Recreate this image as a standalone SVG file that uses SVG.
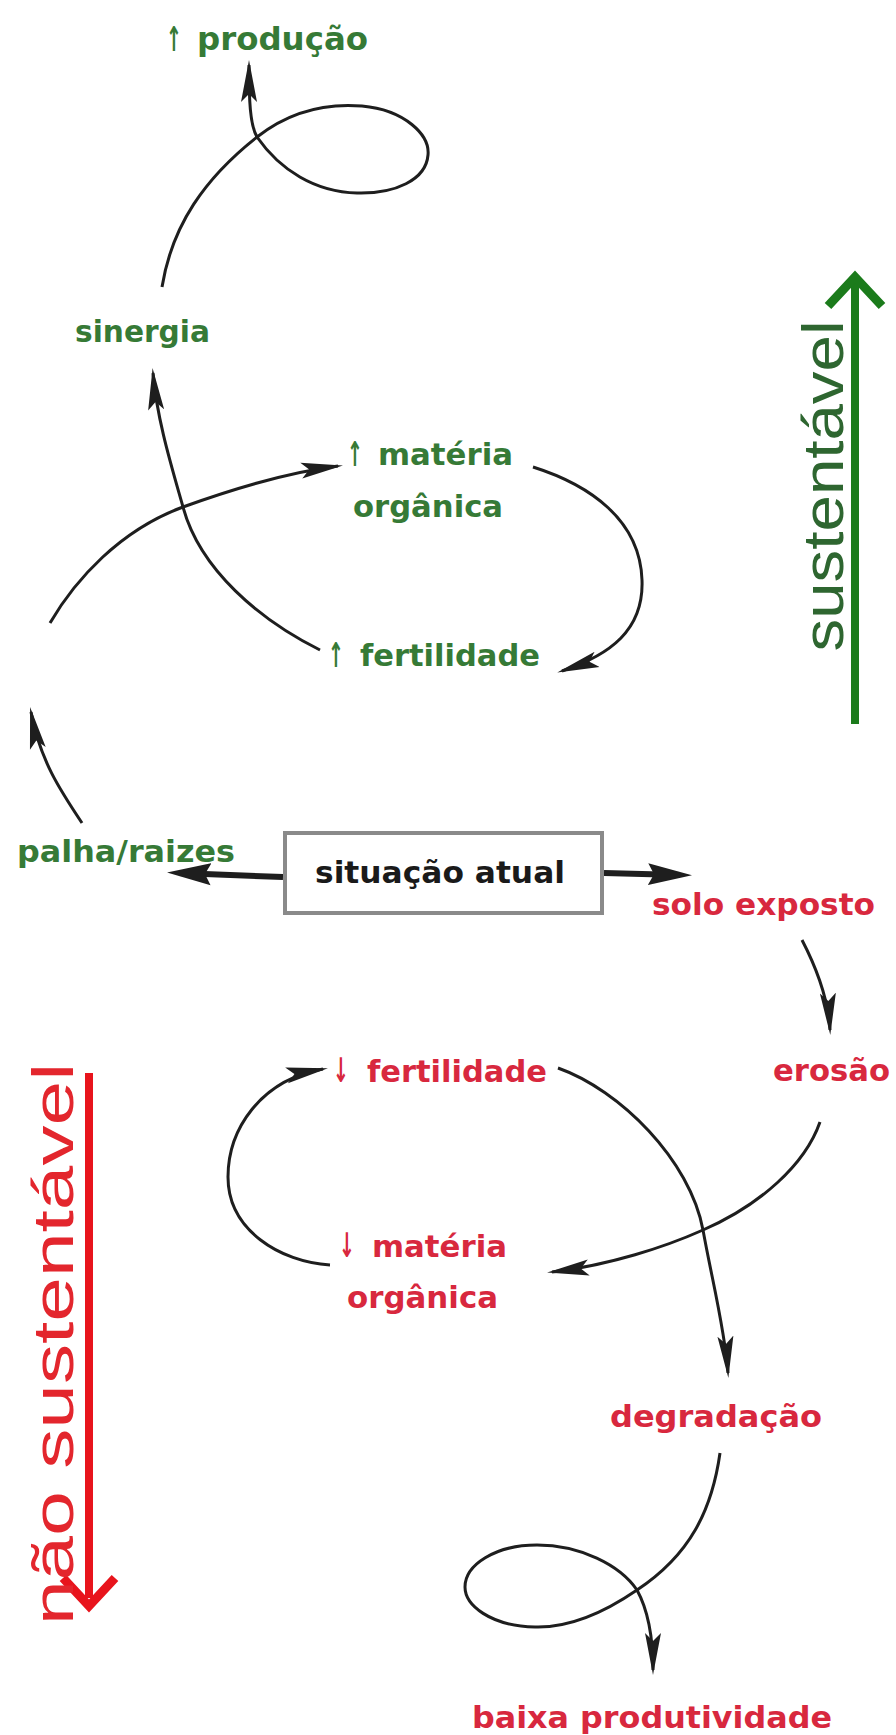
<svg xmlns="http://www.w3.org/2000/svg" width="896" height="1735" viewBox="0 0 896 1735">
<style>
.lbl{font-family:"DejaVu Sans",sans-serif;font-weight:bold;font-size:30px}
.g{fill:#367a36}
.r{fill:#d8283e}
.k{fill:#1a1a1a}
.arw{font-size:34px}
.con{fill:none;stroke:#1e1e1e;stroke-width:3;stroke-linecap:butt}
.conb{fill:none;stroke:#1e1e1e;stroke-width:6}
.side{font-family:"Liberation Sans",Arial,sans-serif;font-size:58px}
</style>
<defs>
<marker id="ah" markerUnits="userSpaceOnUse" viewBox="0 -10 44 20" markerWidth="44" markerHeight="20" refX="37" refY="0" orient="auto">
<path d="M0,-8 L42,0 L0,8 L8,0 Z" fill="#1e1e1e"/>
</marker>
<marker id="ahb" markerUnits="userSpaceOnUse" viewBox="0 -12 46 24" markerWidth="46" markerHeight="24" refX="32" refY="0" orient="auto">
<path d="M0,-11 L44,0 L0,11 L6,0 Z" fill="#1e1e1e"/>
</marker>
</defs>
<rect width="896" height="1735" fill="#ffffff"/>

<g id="connectors">
<path class="con" marker-end="url(#ah)" d="M162,287 C172,225 205,178 257,137 C290,111 325,103 362,106 C405,110 430,135 428,155 C426,180 395,194 357,193 C315,192 280,170 257,137 C250,125 249,100 249,65"/>
<path class="con" marker-end="url(#ah)" d="M320,650 C260,620 200,570 183,507 C172,468 157,420 153,373"/>
<path class="con" marker-end="url(#ah)" d="M50,623 C75,580 120,530 183,507 C230,490 290,472 338,466"/>
<path class="con" marker-end="url(#ah)" d="M533,467 C590,485 640,520 642,580 C644,630 610,655 562,671"/>
<path class="con" marker-end="url(#ah)" d="M82,823 C60,790 40,760 31,712"/>
<path class="conb" marker-end="url(#ahb)" d="M283,877 L179,873"/>
<path class="conb" marker-end="url(#ahb)" d="M604,873 L680,875"/>
<path class="con" marker-end="url(#ah)" d="M802,940 C815,965 828,995 830,1030"/>
<path class="con" marker-end="url(#ah)" d="M820,1122 C805,1165 760,1205 703,1230 C665,1247 610,1265 552,1272"/>
<path class="con" marker-end="url(#ah)" d="M558,1068 C620,1090 690,1160 703,1230 C712,1280 725,1330 728,1373"/>
<path class="con" marker-end="url(#ah)" d="M330,1265 C280,1262 228,1230 228,1177 C228,1130 260,1080 323,1069"/>
<path class="con" marker-end="url(#ah)" d="M720,1453 C712,1510 690,1555 637,1590 C605,1612 570,1628 535,1627 C490,1626 465,1605 465,1587 C465,1565 495,1545 537,1545 C580,1545 620,1565 637,1590 C648,1610 653,1640 653,1670"/>
</g>

<g id="node-producao">
<text class="lbl g" y="50"><tspan class="arw" x="166" y="51" textLength="16" lengthAdjust="spacingAndGlyphs">↑</tspan><tspan x="197" y="50" font-size="32" textLength="171" lengthAdjust="spacingAndGlyphs">produção</tspan></text>
</g>
<g id="node-sinergia">
<text class="lbl g" x="75" y="342" textLength="135" lengthAdjust="spacingAndGlyphs">sinergia</text>
</g>
<g id="node-materia-up">
<text class="lbl g"><tspan class="arw" x="347" y="466" textLength="16" lengthAdjust="spacingAndGlyphs">↑</tspan><tspan x="378" y="465" textLength="135" lengthAdjust="spacingAndGlyphs">matéria</tspan><tspan x="353" y="517" textLength="150" lengthAdjust="spacingAndGlyphs">orgânica</tspan></text>
</g>
<g id="node-fertilidade-up">
<text class="lbl g"><tspan class="arw" x="328" y="667" textLength="16" lengthAdjust="spacingAndGlyphs">↑</tspan><tspan x="360" y="666" textLength="180" lengthAdjust="spacingAndGlyphs">fertilidade</tspan></text>
</g>
<g id="node-palha">
<text class="lbl g" x="17" y="862" textLength="218" lengthAdjust="spacingAndGlyphs">palha/raizes</text>
</g>
<g id="node-situacao">
<rect x="285" y="833" width="317" height="80" fill="#ffffff" stroke="#8a8a8a" stroke-width="4"/>
<text class="lbl k" x="315" y="883" textLength="250" lengthAdjust="spacingAndGlyphs">situação atual</text>
</g>
<g id="node-solo">
<text class="lbl r" x="652" y="915" textLength="223" lengthAdjust="spacingAndGlyphs">solo exposto</text>
</g>
<g id="node-erosao">
<text class="lbl r" x="773" y="1081" textLength="117" lengthAdjust="spacingAndGlyphs">erosão</text>
</g>
<g id="node-fertilidade-down">
<text class="lbl r"><tspan class="arw" x="333" y="1082" textLength="16" lengthAdjust="spacingAndGlyphs">↓</tspan><tspan x="367" y="1082" textLength="180" lengthAdjust="spacingAndGlyphs">fertilidade</tspan></text>
</g>
<g id="node-materia-down">
<text class="lbl r"><tspan class="arw" x="339" y="1257" textLength="16" lengthAdjust="spacingAndGlyphs">↓</tspan><tspan x="372" y="1257" textLength="135" lengthAdjust="spacingAndGlyphs">matéria</tspan><tspan x="347" y="1308" textLength="151" lengthAdjust="spacingAndGlyphs">orgânica</tspan></text>
</g>
<g id="node-degradacao">
<text class="lbl r" x="610" y="1427" textLength="212" lengthAdjust="spacingAndGlyphs">degradação</text>
</g>
<g id="node-baixa">
<text class="lbl r" x="472" y="1728" textLength="360" lengthAdjust="spacingAndGlyphs">baixa produtividade</text>
</g>

<g id="axis-sustentavel">
<line x1="855" y1="724" x2="855" y2="282" stroke="#1b7b1b" stroke-width="8"/>
<polyline points="828,306 855,277 882,306" fill="none" stroke="#1b7b1b" stroke-width="9" stroke-linejoin="miter"/>
<text class="side" transform="translate(843,486) rotate(-90)" text-anchor="middle" fill="#2e6630" textLength="331" lengthAdjust="spacingAndGlyphs">sustentável</text>
</g>
<g id="axis-nao-sustentavel">
<line x1="89" y1="1073" x2="89" y2="1598" stroke="#e8141c" stroke-width="8"/>
<polyline points="63,1578 89,1606 115,1578" fill="none" stroke="#e8141c" stroke-width="9" stroke-linejoin="miter"/>
<text class="side" transform="translate(73,1344) rotate(-90)" text-anchor="middle" fill="#e3262d" textLength="562" lengthAdjust="spacingAndGlyphs">não sustentável</text>
</g>
</svg>
